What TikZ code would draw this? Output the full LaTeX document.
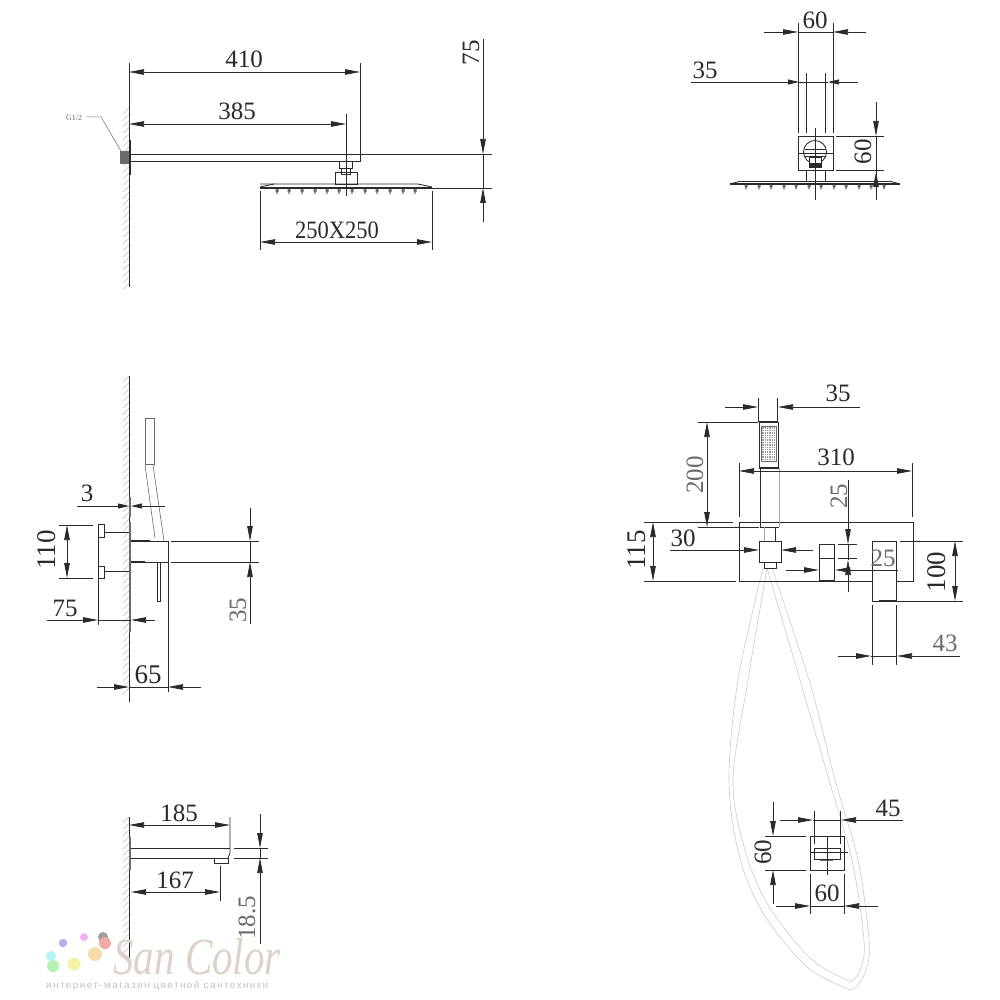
\documentclass[tikz,border=0pt]{standalone}
\usepackage{fontspec}
\setmainfont{Liberation Serif}
\newfontfamily\wmsans{Liberation Sans}
\usetikzlibrary{arrows.meta}
\definecolor{ink}{HTML}{2A2A2A}
\definecolor{softink}{HTML}{6A6A6A}
\definecolor{hatchc}{HTML}{BEBEBE}
\definecolor{hosec}{HTML}{CCCCCC}
\definecolor{wmc}{HTML}{DDD2C8}
\definecolor{dotA}{HTML}{B0B0F0}
\definecolor{dotB}{HTML}{F6B0F6}
\definecolor{dotC}{HTML}{A0A0A0}
\definecolor{dotD}{HTML}{F2AAA4}
\definecolor{dotE}{HTML}{B4F2F2}
\definecolor{dotF}{HTML}{B4F2B4}
\definecolor{dotG}{HTML}{F4F4A8}
\definecolor{dotH}{HTML}{F6DCA8}
\tikzset{
  ln/.style={draw=ink,line width=.85pt},
  thick line/.style={draw=ink,line width=1.8pt},
  ext/.style={draw=ink,line width=.75pt},
  arr/.style={draw=ink,line width=.75pt,-{Triangle[length=15pt,width=5.5pt]}},
  sarr/.style={draw=ink,line width=.75pt,-{Triangle[length=11pt,width=5pt]}},
  lab/.style={font=\fontsize{25}{25}\selectfont,text=ink,inner sep=0pt},
  labg/.style={lab,text=softink},
  bigl/.style={font=\fontsize{27}{27}\selectfont,text=ink,inner sep=0pt},
  hatchl/.style={draw=hatchc,line width=.6pt},
  hosel/.style={draw=hosec,line width=.6pt},
  center line/.style={draw=ink,line width=.6pt},
}
\begin{document}
\begin{tikzpicture}[x=1pt,y=-1pt]
\useasboundingbox[fill=white] (0,0) rectangle (1000,1000);

% ========== Top-left: rain shower side view ==========
\foreach \y in {108,114.5,...,284} \draw[hatchl] (123,\y+6) -- (129,\y);
\draw[ln] (129,63) -- (129,287);
\draw[line width=2pt,draw=ink] (130,140) -- (130,175);
\fill[softink] (120,151) rectangle (129,164);
\draw[softink,line width=.5pt] (87,117) -- (101,117) -- (121,151);
\node[inner sep=0pt,font=\fontsize{8}{8}\selectfont,text=softink] (g12) at (74,118) {G1/2};
\draw[ln] (131,154) -- (492,154);
\draw[ln] (131,161) -- (360,161) -- (360,63);
\draw[ln] (339,161) rectangle (352,168);
\draw[ln] (341,168) rectangle (350,174);
\draw[ln] (335,172) rectangle (357,184);
\draw[ln] (260,184) -- (274,184) -- (418,184) -- (432,187);
\draw[ln] (274,184) -- (260,187);
\draw[thick line] (260,188) -- (432,188);
\draw[ext] (432,188) -- (492,188);
\foreach \x in {277,289,302,315,327,339,352,365,377,390,403,415}
  \fill[softink] (\x-1.5,189) rectangle (\x+1.5,192) (\x-.6,192) rectangle (\x+.6,194);
\draw[center line] (346,114) -- (346,196);
\draw[arr] (290,72) -- (129,72);
\draw[arr] (200,72) -- (360,72);
\draw[arr] (290,124) -- (129,124);
\draw[arr] (200,124) -- (346,124);
\draw[ext] (260,191) -- (260,250);
\draw[ext] (432,191) -- (432,250);
\draw[arr] (340,242) -- (260,242);
\draw[arr] (340,242) -- (432,242);
\draw[arr] (483,39) -- (483,154);
\draw[arr] (483,222) -- (483,188);
\draw[ext] (483,154) -- (483,188);
\node[lab] (t410) at (244,59) {410};
\node[lab] (t385) at (237,111) {385};
\node[lab,xscale=.9] (t250) at (337,230) {250X250};
\node[lab,rotate=90] (t75a) at (471,53) {75};

% ========== Top-right: rain shower front view ==========
\draw[ext] (798,23) -- (798,133);
\draw[ext] (833,23) -- (833,133);
\draw[ext] (806,73) -- (806,133);
\draw[ext] (825,73) -- (825,133);
\draw[arr] (764,32) -- (798,32);
\draw[arr] (866,32) -- (833,32);
\draw[ext] (798,32) -- (833,32);
\draw[sarr] (691,82) -- (799,82);
\draw[sarr] (858,82) -- (828,82);
\draw[ext] (799,82) -- (828,82);
\draw[ln] (798,136) rectangle (833,170);
\draw[ln] (815,152) circle (11.5);
\draw[ln] (798,153) -- (833,153);
\draw[ln] (805,149) -- (826,149);
\draw[ln] (805,156.5) -- (826,156.5);
\draw[ln,fill=white] (809,157) rectangle (821,167);
\fill[ink] (809,163) rectangle (821,167);
\draw[ln] (806,181) -- (806,170) -- (825,170) -- (825,181);
\draw[ln] (741,181) -- (889,181);
\draw[ln] (741,181) -- (730,184);
\draw[ln] (889,181) -- (900,184);
\draw[thick line] (730,184) -- (900,184);
\foreach \x in {746,759,771,784,796,809,821,834,846,859,871,884}
  \fill[softink] (\x-1.5,185) rectangle (\x+1.5,187.5) (\x-.6,187.5) rectangle (\x+.6,189.5);
\draw[center line] (815,128) -- (815,200);
\draw[arr] (876,102) -- (876,136);
\draw[arr] (876,186) -- (876,172);
\draw[ext] (876,136) -- (876,200);
\draw[ext] (836,136) -- (884,136);
\draw[ext] (836,170) -- (884,170);
\node[lab] (t60a) at (815,20) {60};
\node[lab] (t35a) at (705,70) {35};
\node[lab,rotate=90] (t60b) at (863,152) {60};

% ========== Middle-left: mixer side view ==========
\foreach \y in {376,382.5,...,692} \draw[hatchl] (123,\y+6) -- (129,\y);
\draw[ln] (129,376) -- (129,702);
\draw[softink,line width=.8pt] (145,418) rectangle (154,464);
\draw[softink,line width=.6pt] (145,465) -- (155,538);
\draw[softink,line width=.6pt] (153,465) -- (164,541);
\draw[draw=softink,line width=2pt] (130,497) -- (130,517);
\draw[draw=softink,line width=2.2pt] (130,522) -- (130,632);
\draw[ln] (131,541) -- (168,541) -- (168,562) -- (131,562);
\draw[draw=ink,line width=1.4pt] (131,541) -- (150,541) (131,562) -- (145,562);
\draw[ln] (171,541) -- (259,541);
\draw[ln] (171,562) -- (259,562);
\draw[ln] (157,562) rectangle (160.5,601);
\draw[ext] (168,562) -- (168,692);
\draw[ln] (98,524) rectangle (104,537);
\draw[ln] (98,566) rectangle (104,578);
\draw[ln] (104,532) -- (129,532);
\draw[ln] (104,571) -- (129,571);
\draw[ext] (98,537) -- (98,566);
\draw[ext] (98,578) -- (98,625);
\draw[arr] (47,620) -- (98,620);
\draw[arr] (155,620) -- (131,620);
\draw[ext] (98,620) -- (131,620);
\draw[sarr] (77,506) -- (129,506);
\draw[sarr] (165,506) -- (131,506);
\draw[ext] (59,525) -- (93,525);
\draw[ext] (59,578) -- (93,578);
\draw[arr] (67,552) -- (67,525);
\draw[arr] (67,552) -- (67,578);
\draw[arr] (97,687) -- (129,687);
\draw[arr] (201,687) -- (168,687);
\draw[ext] (129,687) -- (168,687);
\draw[arr] (250,508) -- (250,541);
\draw[arr] (250,624) -- (250,562);
\draw[ext] (250,541) -- (250,562);
\node[lab] (t3) at (87,493) {3};
\node[bigl,rotate=90] (t110) at (47,550) {110};
\node[lab] (t75b) at (65,608) {75};
\node[bigl] (t65) at (148,675) {65};
\node[labg,rotate=90] (t35b) at (238,610) {35};

% ========== Middle-right: mixer front view ==========
\draw[hosel] plot[smooth,tension=.55] coordinates {(763,568) (738,680) (729,780) (739,855) (763,913) (805,965) (843,987) (855,988) (866,970) (869,940) (858,860) (835,780) (809,680) (772,568)};
\draw[hosel] plot[smooth,tension=.55] coordinates {(767,568) (748,680) (733,780) (745,850) (768,905) (810,958) (845,979) (853,980) (861,968) (864,940) (852,860) (829,780) (800,680) (767,568)};
\draw[ln] (739,522) rectangle (913,581);
\draw[ln,fill=white] (872,541) rectangle (896,601);
\draw[thick line] (879,601) -- (896,601);
\draw[ln] (819.5,544) rectangle (834,580);
\draw[ln] (819.5,558) -- (834,558);
\draw[ln,fill=white] (759,422) rectangle (778,468);
\draw[draw=ink,line width=1.2pt] (759,422) -- (778,422) (759,468) -- (778,468);
\foreach \i in {0,...,5}\foreach \j in {0,...,13}
  \fill[softink!70] (762.3+\i*2.3,427.3+\j*2.4) rectangle ++(1.4,1.5);
\draw[softink,line width=.5pt] (761.5,426.5) rectangle (776,461.5);
\draw[ln,fill=white] (760,527) -- (760,468) -- (779,468);
\draw[softink!60,line width=.8pt] (779,468) -- (779,527);
\draw[ln] (760,527) -- (779,527);
\draw[softink!60,line width=.7pt] (764,527) -- (764,541);
\draw[ln] (775.5,527) -- (775.5,541);
\draw[ln,fill=white] (759,541) rectangle (781,562);
\draw[ln] (764,562) rectangle (776,568);
\draw[ext] (758,398) -- (758,422);
\draw[ext] (777,398) -- (777,422);
\draw[arr] (725,407) -- (758,407);
\draw[arr] (860,407) -- (778,407);
\draw[ext] (698,422) -- (758,422);
\draw[ext] (698,527) -- (759,527);
\draw[arr] (707,475) -- (707,422);
\draw[arr] (707,475) -- (707,527);
\draw[ext] (739,463) -- (739,517);
\draw[ext] (912,463) -- (912,517);
\draw[arr] (830,471) -- (739,471);
\draw[arr] (820,471) -- (912,471);
\draw[arr] (848,480) -- (848,544);
\draw[arr] (848,592) -- (848,560);
\draw[ext] (848,544) -- (848,560);
\draw[ext] (838,544) -- (857,544);
\draw[ext] (838,558) -- (857,558);
\draw[arr] (786,570) -- (819,570);
\draw[arr] (898,570) -- (835,570);
\fill[ink] (848,570.5) circle (2.8);
\draw[ext] (644,522) -- (733,522);
\draw[ext] (644,581) -- (736,581);
\draw[arr] (653,552) -- (653,522);
\draw[arr] (653,552) -- (653,581);
\draw[arr] (670,550) -- (759,550);
\draw[arr] (813,550) -- (781,550);
\draw[ext] (900,541) -- (963,541);
\draw[ext] (896,601) -- (963,601);
\draw[arr] (955,572) -- (955,541);
\draw[arr] (955,572) -- (955,601);
\draw[ext] (872,605) -- (872,665);
\draw[ext] (896,605) -- (896,665);
\draw[arr] (838,656) -- (871,656);
\draw[arr] (960,656) -- (897,656);
\draw[ext] (871,656) -- (897,656);
\node[lab] (t35c) at (838,393) {35};
\node[labg,rotate=90] (t200) at (695,475) {200};
\node[lab] (t310) at (836,457) {310};
\node[labg,rotate=90] (t25a) at (839,496) {25};
\node[labg] (t25b) at (883,558) {25};
\node[bigl,rotate=90] (t115) at (637,550) {115};
\node[lab] (t30) at (683,538) {30};
\node[bigl,rotate=90] (t100) at (937,572) {100};
\node[labg] (t43) at (945,643) {43};

% ========== Bottom-left: spout ==========
\foreach \y in {817,823.5,...,952} \draw[hatchl] (123,\y+6) -- (129,\y);
\draw[ln] (129,817) -- (129,958);
\draw[draw=softink,line width=2pt] (130,837) -- (130,870);
\draw[ln] (131,848) -- (230,848);
\draw[ln] (131,858) -- (228,858);
\draw[ln] (230,817) -- (230,853) -- (228,858);
\draw[ln] (214.5,858) rectangle (228,863);
\draw[arr] (190,825) -- (129,825);
\draw[arr] (170,825) -- (230,825);
\draw[ext] (220,866) -- (220,901);
\draw[arr] (180,892) -- (131,892);
\draw[arr] (170,892) -- (220,892);
\draw[ext] (234,848) -- (268,848);
\draw[ext] (234,858) -- (268,858);
\draw[arr] (260,814) -- (260,848);
\draw[arr] (260,944) -- (260,858);
\draw[ext] (260,848) -- (260,858);
\node[lab] (t185) at (179,813) {185};
\node[lab] (t167) at (175,880) {167};
\node[labg,rotate=90] (t185b) at (247,918) {18.5};

% ========== Bottom-right: spout front ==========
\draw[ln] (810,836.5) rectangle (844,870);
\draw[ln] (814,848) rectangle (840,859);
\draw[draw=softink,line width=1.5pt] (820,860.5) -- (833,860.5);
\draw[center line] (810,852.5) -- (848,852.5);
\draw[center line] (827,836) -- (827,875);
\draw[ext] (814,811) -- (814,844);
\draw[ext] (840,811) -- (840,844);
\draw[arr] (780,820) -- (813,820);
\draw[arr] (903,820) -- (841,820);
\draw[ext] (813,820) -- (841,820);
\draw[ext] (765,836.5) -- (806,836.5);
\draw[ext] (765,870) -- (806,870);
\draw[arr] (773,802) -- (773,836);
\draw[arr] (773,904) -- (773,870);
\draw[ext] (810,874) -- (810,914);
\draw[ext] (844,874) -- (844,914);
\draw[arr] (776,906) -- (810,906);
\draw[arr] (878,906) -- (844,906);
\draw[ext] (810,906) -- (844,906);
\node[lab] (t45) at (888,808) {45};
\node[lab,rotate=90] (t60c) at (763,852) {60};
\node[lab] (t60d) at (827,893) {60};

% ========== Watermark ==========
\fill[dotA] (63,943) circle (4.2);
\fill[dotB] (84,937) circle (4);
\fill[dotC] (103,937) circle (5);
\fill[dotD] (105,943) circle (6);
\fill[dotE] (51,956) circle (5);
\fill[dotF] (53,966) circle (6);
\fill[dotG] (74,964) circle (6.5);
\fill[dotH] (95,954) circle (7);
\node[inner sep=0pt,anchor=base west,text=wmc,text depth=0pt,xscale=.79,font=\fontsize{52}{52}\selectfont\itshape] (wm) at (113,974) {San Color};
\node[inner sep=0pt,anchor=base west,text=softink!40,font=\wmsans\fontsize{10}{10}\selectfont\addfontfeature{LetterSpace=14}] (wms) at (46,988) {интернет-магазин цветной сантехники};
\end{tikzpicture}
\end{document}
